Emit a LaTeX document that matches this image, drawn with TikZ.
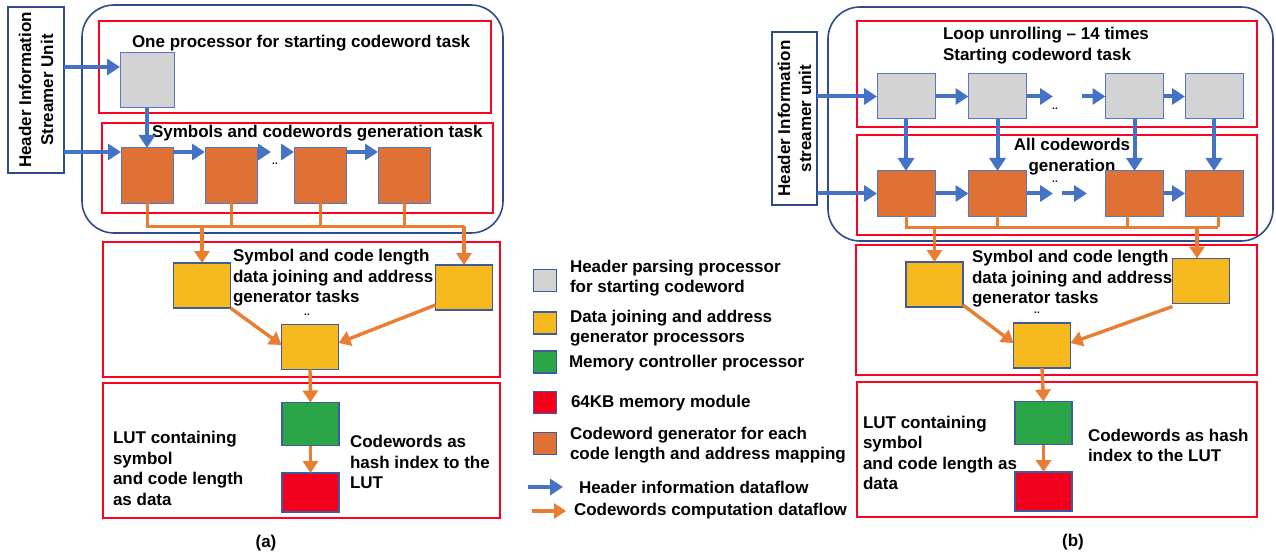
\documentclass[tikz,border=0pt]{standalone}
\usepackage{fontspec}
\setmainfont{Liberation Sans}
\usetikzlibrary{arrows.meta,calc}

\definecolor{navyline}{RGB}{47,75,140}
\definecolor{flowblue}{RGB}{68,114,196}
\definecolor{edgeblue}{RGB}{84,120,200}
\definecolor{edgedark}{RGB}{62,90,160}
\definecolor{frame}{RGB}{255,0,32}
\definecolor{procgray}{RGB}{211,211,211}
\definecolor{genorange}{RGB}{224,113,52}
\definecolor{floworange}{RGB}{233,125,49}
\definecolor{joinyellow}{RGB}{247,186,30}
\definecolor{memgreen}{RGB}{42,166,70}
\definecolor{memred}{RGB}{242,0,28}

\tikzset{
  outerbox/.style={draw=navyline, line width=1.6pt, rounded corners=32pt},
  taskframe/.style={draw=frame, line width=2.5pt},
  hdrbox/.style={draw=navyline, line width=2.2pt, inner sep=0pt, outer sep=0pt},
  blk/.style={draw=edgeblue, line width=1pt, inner sep=0pt, outer sep=0pt},
  blkd/.style={draw=edgedark, line width=1.2pt, inner sep=0pt, outer sep=0pt},
  graybox/.style={blk, fill=procgray},
  orangebox/.style={blk, fill=genorange},
  yellowbox/.style={blkd, fill=joinyellow, minimum width=57pt, minimum height=45pt},
  greenbox/.style={blkd, fill=memgreen, minimum width=57pt, minimum height=43pt},
  redbox/.style={blkd, fill=memred, minimum width=57pt, minimum height=39pt},
  keybox/.style={blkd, minimum width=23pt, minimum height=22pt},
  barr/.style={draw=flowblue, line width=4pt, -{Triangle[length=13pt,width=16pt]}},
  oarr/.style={draw=floworange, line width=3.4pt, -{Triangle[length=12pt,width=15pt]}},
  oline/.style={draw=floworange, line width=3pt},
  lbl/.style={inner sep=0pt, outer sep=0pt, align=left, anchor=west},
  dots/.style={inner sep=0pt, font=\fontsize{10}{10}\selectfont\bfseries}
}

\begin{document}
\begin{tikzpicture}[x=1pt, y=-1pt, font=\fontsize{17}{20.5}\selectfont\bfseries]
\useasboundingbox (0,0) rectangle (1276,556);

% ---------------- (a) baseline pipeline ----------------
\draw[outerbox] (82,5) rectangle (503,233);
\draw[taskframe] (99,21) rectangle (491,113);
\draw[taskframe] (102,123) rectangle (493,213);
\draw[taskframe] (103,242) rectangle (500,377);
\draw[taskframe] (103,383) rectangle (500,518);

\node[hdrbox, minimum width=56pt, minimum height=166pt] (hA) at (36,90) {};
\node[rotate=90, align=center, inner sep=0pt, font=\fontsize{17}{22}\selectfont\bfseries] (hAtxt) at (36,90) {Header Information\\Streamer Unit};

\node[lbl] (tA1) at (132,43) {One processor for starting codeword task};
\node[lbl] (tA2) at (152,133) {Symbols and codewords generation task};

\node[graybox, minimum width=54pt, minimum height=55pt] (gA) at (147,80.5) {};
\node[orangebox, minimum width=52pt, minimum height=55pt] (a1) at (147,175.5) {};
\node[orangebox, minimum width=52pt, minimum height=55pt] (a2) at (231,175.5) {};
\node[orangebox, minimum width=52pt, minimum height=55pt] (a3) at (320,175.5) {};
\node[orangebox, minimum width=52pt, minimum height=55pt] (a4) at (404,175.5) {};
\node[dots] (dA1) at (275,164) {..};

\coordinate (gAin) at ([yshift=13.5pt]gA.west);
\coordinate (a1in) at ([yshift=23.5pt]a1.west);
\coordinate (gapA1) at (271,152);
\coordinate (gapA2) at (282,152);
\draw[barr] (hA.east |- gAin) -- (gAin);
\draw[barr] (hA.east |- a1in) -- (a1in);
\draw[barr] (gA.south) -- (a1.north);
\draw[barr] ([yshift=23.5pt]a1.east) -- ([yshift=23.5pt]a2.west);
\draw[barr] ([yshift=23.5pt]a2.east) -- (gapA1);
\draw[barr] (gapA2) -- ([yshift=23.5pt]a3.west);
\draw[barr] ([yshift=23.5pt]a3.east) -- ([yshift=23.5pt]a4.west);

\node[yellowbox] (ya1) at (202,285.5) {};
\node[yellowbox] (ya2) at (464,287.5) {};
\node[yellowbox] (ya3) at (310,347) {};
\node[greenbox] (gnA) at (310.5,424) {};
\node[redbox] (rdA) at (310.5,492.5) {};

\coordinate (busA) at (464,226);
\draw[oline] (a1.south) |- (busA);
\foreach \n in {a2,a3,a4} \draw[oline] (\n.south) -- (\n.south |- busA);
\draw[oarr] (ya1.north |- busA) -- (ya1.north);
\draw[oarr] (busA) -- (ya2.north);
\draw[oarr] (ya1.south east) -- ([yshift=2pt]ya3.west);
\draw[oarr] ([yshift=5pt]ya2.south west) -- ([yshift=4pt]ya3.east);
\draw[oarr] (ya3.south) -- (gnA.north);
\draw[oarr] (gnA.south) -- (rdA.north);

\node[lbl] (tA3) at (233,278) {Symbol and code length\\data joining and address\\generator tasks};
\node[dots] (dA2) at (307,315) {..};
\node[lbl] (tA4) at (113,468.5) {LUT containing\\symbol\\and code length\\as data};
\node[lbl] (tA5) at (350,462) {Codewords as\\hash index to the\\LUT};
\node (capA) at (266,543) {(a)};

% ---------------- legend ----------------
\node[keybox, fill=procgray] (k1) at (545,280.5) {};
\node[keybox, fill=joinyellow] (k2) at (545,323) {};
\node[keybox, fill=memgreen] (k3) at (545,362) {};
\node[keybox, fill=memred] (k4) at (545,402.5) {};
\node[keybox, fill=genorange] (k5) at (545,443.5) {};
\node[lbl] (l1) at (570,278) {Header parsing processor\\for starting codeword};
\node[lbl] (l2) at (570,328) {Data joining and address\\generator processors};
\node[lbl] (l3) at (569,363) {Memory controller processor};
\node[lbl] (l4) at (571,403) {64KB memory module};
\node[lbl] (l5) at (570,445) {Codeword generator for each\\code length and address mapping};
\coordinate (kb1) at (528,487);
\coordinate (kb2) at (563,487);
\coordinate (ko1) at (532,511);
\coordinate (ko2) at (566,511);
\draw[barr] (kb1) -- (kb2);
\draw[oarr] (ko1) -- (ko2);
\node[lbl] (l6) at (579,487) {Header information dataflow};
\node[lbl] (l7) at (574,511) {Codewords computation dataflow};

% ---------------- (b) unrolled pipeline ----------------
\draw[outerbox] (828,7) rectangle (1273,241);
\draw[taskframe] (857,21) rectangle (1257,127);
\draw[taskframe] (857,135) rectangle (1257,235);
\draw[taskframe] (856,245) rectangle (1257,375);
\draw[taskframe] (857,382) rectangle (1257,517);

\node[hdrbox, minimum width=45pt, minimum height=173pt] (hB) at (794.5,118.5) {};
\node[rotate=90, align=center, inner sep=0pt, font=\fontsize{17}{21}\selectfont\bfseries] (hBtxt) at (794.5,118.5) {Header Information\\streamer unit};

\node[lbl] (tB1) at (943,45.5) {Loop unrolling -- 14 times\\Starting codeword task};
\node[align=center, inner sep=0pt] (tB2) at (1072,156.5) {All codewords\\generation};

\node[graybox, minimum width=58pt, minimum height=45pt] (g1) at (906,96.5) {};
\node[graybox, minimum width=58pt, minimum height=45pt] (g2) at (997.5,96.5) {};
\node[graybox, minimum width=58pt, minimum height=45pt] (g3) at (1134.5,96.5) {};
\node[graybox, minimum width=58pt, minimum height=45pt] (g4) at (1214,96.5) {};
\node[orangebox, minimum width=58pt, minimum height=45pt] (o1) at (906,193.5) {};
\node[orangebox, minimum width=58pt, minimum height=45pt] (o2) at (997.5,193.5) {};
\node[orangebox, minimum width=58pt, minimum height=45pt] (o3) at (1134.5,193.5) {};
\node[orangebox, minimum width=58pt, minimum height=45pt] (o4) at (1214,193.5) {};
\node[dots] (dB1) at (1055,109) {..};
\node[dots] (dB2) at (1055,182) {..};

\coordinate (gapB1) at (1053,96.5);
\coordinate (gapB2) at (1082,96.5);
\coordinate (gapB3) at (1053,193.5);
\coordinate (gapB4) at (1062,193.5);
\coordinate (gapB5) at (1087,193.5);
\draw[barr] (hB.east |- g1.west) -- (g1.west);
\draw[barr] (g1.east) -- (g2.west);
\draw[barr] (g2.east) -- (gapB1);
\draw[barr] (gapB2) -- (g3.west);
\draw[barr] (g3.east) -- (g4.west);
\draw[barr] (hB.east |- o1.west) -- (o1.west);
\draw[barr] (o1.east) -- (o2.west);
\draw[barr] (o2.east) -- (gapB3);
\draw[barr] (gapB4) -- (gapB5);
\draw[barr] (o3.east) -- (o4.west);
\foreach \i in {1,2,3,4} \draw[barr] (g\i.south) -- (o\i.north);

\node[yellowbox] (yb1) at (934.5,284.5) {};
\node[yellowbox] (yb2) at (1201,281) {};
\node[yellowbox] (yb3) at (1042,345.5) {};
\node[greenbox] (gnB) at (1043.5,423) {};
\node[redbox] (rdB) at (1043.5,491.5) {};

\coordinate (busB) at (1218,227);
\draw[oline] (o1.south) |- (busB);
\draw[oline] (o2.south) -- (o2.south |- busB);
\draw[oline] ([xshift=-7pt]o3.south) -- ([xshift=-7pt]o3.south |- busB);
\draw[oline] ([xshift=4pt]o4.south) -- (busB);
\draw[oarr] (yb1.north |- busB) -- (yb1.north);
\draw[oarr] ([xshift=-4pt]yb2.north |- busB) -- ([xshift=-4pt]yb2.north);
\draw[oarr] ([yshift=2pt]yb1.south east) -- ([yshift=2.5pt]yb3.west);
\draw[oarr] ([yshift=-3pt]yb2.south west) -- ([yshift=2.5pt]yb3.east);
\draw[oarr] (yb3.south) -- (gnB.north);
\draw[oarr] (gnB.south) -- (rdB.north);

\node[lbl] (tB3) at (972,279) {Symbol and code length\\data joining and address\\generator tasks};
\node[dots] (dB3) at (1037,313) {..};
\node[lbl] (tB4) at (863,453) {LUT containing\\symbol\\and code length as\\data};
\node[lbl] (tB5) at (1088,445.5) {Codewords as hash\\index to the LUT};
\node (capB) at (1073,542) {(b)};
\end{tikzpicture}
\end{document}
